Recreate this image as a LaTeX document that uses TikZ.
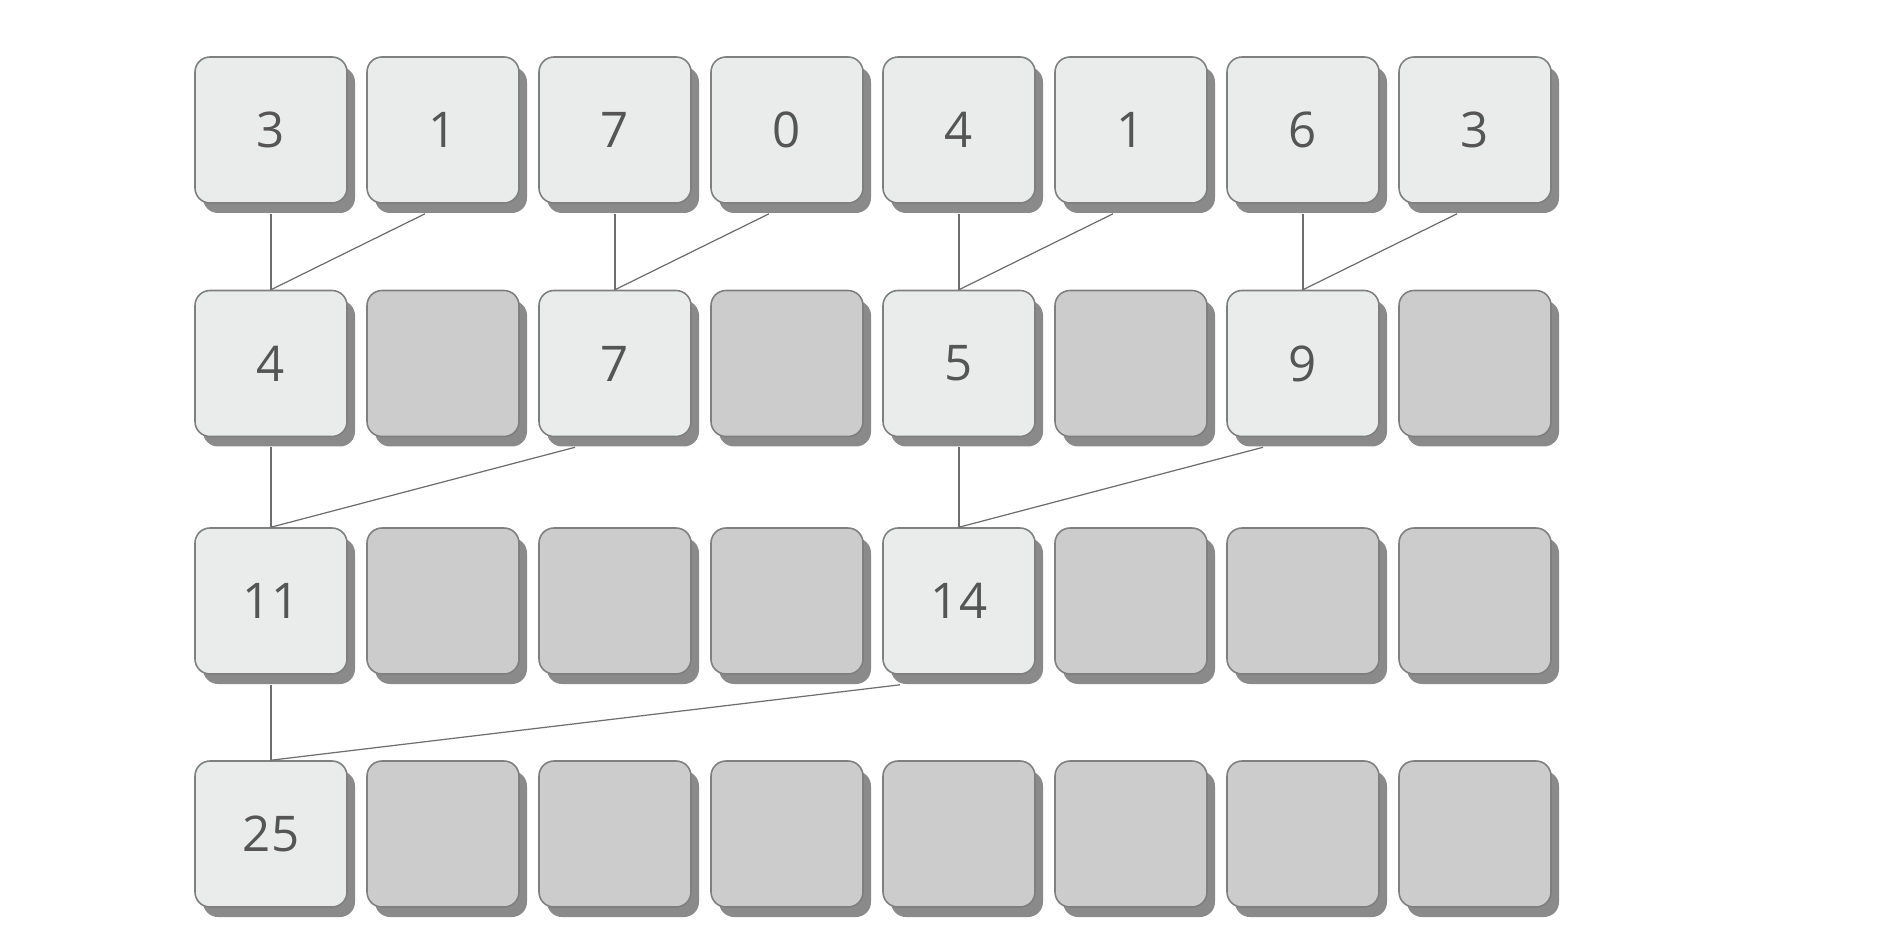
\documentclass[tikz,border=0pt]{standalone}
\usepackage{fontspec}
\setmainfont{Open Sans}
\usetikzlibrary{shadows}
\definecolor{cellfill}{HTML}{E9ECEB}
\definecolor{blankfill}{HTML}{CCCCCC}
\definecolor{celledge}{HTML}{7F7F7F}
\definecolor{cellshadow}{HTML}{8A8A8A}
\definecolor{digitgray}{HTML}{555555}
\definecolor{wiregray}{HTML}{6E6E6E}

\begin{document}
\begin{tikzpicture}[line join=round,
    sumcell/.style={draw=celledge,line width=0.9pt,rounded corners=0.3cm,
      minimum width=3.04cm,minimum height=2.92cm,inner sep=0pt,
      fill=cellfill,text=digitgray,font=\fontsize{28}{30}\selectfont,
      drop shadow={shadow xshift=0.16cm,shadow yshift=-0.2cm,
        fill=cellshadow,opacity=1}},
    blankcell/.style={sumcell,fill=blankfill},
    wire/.style={draw=wiregray,line width=0.7pt}]
    \useasboundingbox (0,0) rectangle (37.88,-18.92);
    % ============ Input row ============
    \foreach \v [count=\c] in {3,1,7,0,4,1,6,3}
      \node[sumcell] (r1c\c) at ({5.42+3.44*(\c-1)},-2.60) {\v};
    % ============ Partial sums, step 1 ============
    \foreach \s/\v [count=\c] in {sumcell/4,blankcell/{},sumcell/7,blankcell/{},
        sumcell/5,blankcell/{},sumcell/9,blankcell/{}}
      \node[\s] (r2c\c) at ({5.42+3.44*(\c-1)},-7.27) {\v};
    % ============ Partial sums, step 2 ============
    \foreach \s/\v [count=\c] in {sumcell/11,blankcell/{},blankcell/{},blankcell/{},
        sumcell/14,blankcell/{},blankcell/{},blankcell/{}}
      \node[\s] (r3c\c) at ({5.42+3.44*(\c-1)},-12.02) {\v};
    % ============ Total ============
    \foreach \s/\v [count=\c] in {sumcell/25,blankcell/{},blankcell/{},blankcell/{},
        blankcell/{},blankcell/{},blankcell/{},blankcell/{}}
      \node[\s] (r4c\c) at ({5.42+3.44*(\c-1)},-16.68) {\v};
    % ============ Connectors ============
    \foreach \a/\b in {1/2,3/4,5/6,7/8} {
      \draw[wire] ([yshift=-0.2cm]r1c\a.south) -- (r2c\a.north);
      \draw[wire] ([shift={(-0.36cm,-0.2cm)}]r1c\b.south) -- (r2c\a.north);
    }
    \foreach \a/\b in {1/3,5/7} {
      \draw[wire] ([yshift=-0.2cm]r2c\a.south) -- (r3c\a.north);
      \draw[wire] ([shift={(-0.8cm,-0.2cm)}]r2c\b.south) -- (r3c\a.north);
    }
    \draw[wire] ([yshift=-0.2cm]r3c1.south) -- (r4c1.north);
    \draw[wire] ([shift={(-1.18cm,-0.2cm)}]r3c5.south) -- (r4c1.north);
  \end{tikzpicture}
\end{document}
